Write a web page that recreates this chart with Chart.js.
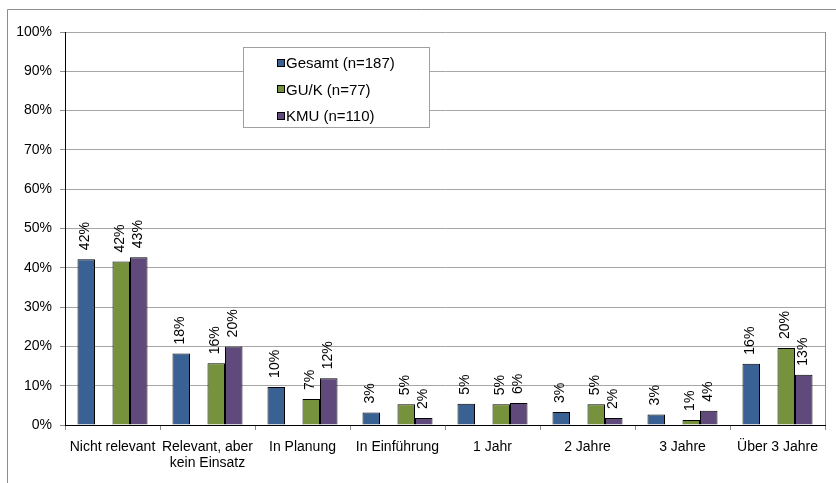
<!DOCTYPE html>
<html>
<head>
<meta charset="utf-8">
<script src="https://cdn.jsdelivr.net/npm/chart.js@4.4.0/dist/chart.umd.min.js"></script>
<style>
  html, body { margin: 0; padding: 0; background: #fff; }
  #wrap { width: 836px; height: 483px; position: relative; }
</style>
</head>
<body>
<div id="wrap"><canvas id="myChart"></canvas></div>
<script>
// Kategorien und Werte (in %)
var kategorien = [
  "Nicht relevant",
  ["Relevant, aber", "kein Einsatz"],
  "In Planung",
  "In Einführung",
  "1 Jahr",
  "2 Jahre",
  "3 Jahre",
  "Über 3 Jahre",
];
var gesamt = [42.2, 18.2, 9.7, 3.2, 5.4, 3.3, 2.7, 15.6];
var guk = [41.6, 15.7, 6.6, 5.3, 5.3, 5.3, 1.3, 19.6];
var kmu = [42.7, 20.0, 11.9, 1.8, 5.6, 1.8, 3.6, 12.8];
var leer = [null, null, null, null, null, null, null, null]; // leere Serie (Lücke zwischen Balken)
var yTicks = [0, 10, 20, 30, 40, 50, 60, 70, 80, 90, 100];

var schrift = '"Liberation Sans", Arial, sans-serif';

// Beschriftung über den Balken (senkrecht)
var wertePlugin = {
  id: "werte",
  afterDatasetsDraw: function (chart) {
    var ctx = chart.ctx;
    ctx.save();
    ctx.font = "14px " + schrift;
    ctx.fillStyle = "#000";
    ctx.textAlign = "left";
    ctx.textBaseline = "middle";
    chart.data.datasets.forEach(function (ds, i) {
      if (ds.leer) return;
      chart.getDatasetMeta(i).data.forEach(function (bar, j) {
        var v = ds.data[j];
        ctx.save();
        ctx.translate(bar.x - 1, bar.y - 9);
        ctx.rotate(-Math.PI / 2);
        ctx.fillText(Math.round(v) + "%", 0, 0);
        ctx.restore();
      });
    });
    ctx.restore();
  },
};

// Rahmen und Legende
var rahmenPlugin = {
  id: "rahmen",
  beforeDraw: function (chart) {
    var ctx = chart.ctx;
    ctx.save();
    ctx.strokeStyle = "#8c8c8c";
    ctx.lineWidth = 1;
    ctx.beginPath();
    ctx.moveTo(7.5, 483);
    ctx.lineTo(7.5, 9.5);
    ctx.lineTo(836, 9.5);
    ctx.stroke();
    ctx.restore();
  },
  afterDraw: function (chart) {
    var ctx = chart.ctx;
    var a = chart.chartArea;
    ctx.save();
    ctx.strokeStyle = "#8c8c8c";
    ctx.beginPath();
    ctx.moveTo(Math.round(a.right) + 0.5, a.top);
    ctx.lineTo(Math.round(a.right) + 0.5, a.bottom);
    ctx.stroke();

    // Legende
    ctx.fillStyle = "#fff";
    ctx.fillRect(243, 47, 186, 80);
    ctx.strokeStyle = "#a0a0a0";
    ctx.strokeRect(243.5, 47.5, 186, 80);
    ctx.font = "15px " + schrift;
    ctx.textBaseline = "middle";
    ctx.textAlign = "left";
    var eintraege = chart.data.datasets.filter(function (d) { return !d.leer; });
    eintraege.forEach(function (ds, i) {
      var y = 63 + i * 26.5;
      ctx.fillStyle = ds.backgroundColor;
      ctx.fillRect(278, Math.round(y - 3.5), 7, 7);
      ctx.strokeStyle = "#000";
      ctx.strokeRect(277.5, Math.round(y - 3.5) - 0.5, 7, 7);
      ctx.fillStyle = "#000";
      ctx.fillText(ds.label, 286, y + 1);
    });
    ctx.restore();
  },
};

var ctx = document.getElementById("myChart").getContext("2d");
var myChart = new Chart(ctx, {
  type: "bar",
  data: {
    labels: kategorien,
    datasets: [
      { label: "Gesamt (n=187)", data: gesamt, backgroundColor: "#3a6194" },
      { label: "", data: leer, backgroundColor: "#fff", leer: true },
      { label: "GU/K (n=77)", data: guk, backgroundColor: "#76923c" },
      { label: "KMU (n=110)", data: kmu, backgroundColor: "#604a7b" },
    ].map(function (d) {
      d.borderColor = "#000";
      d.borderWidth = 1;
      d.borderSkipped = "bottom";
      d.categoryPercentage = 0.737;
      d.barPercentage = 1;
      return d;
    }),
  },
  options: {
    responsive: true,
    maintainAspectRatio: false,
    animation: false,
    layout: { padding: { left: 0, top: 32, right: 11, bottom: 0 } },
    plugins: {
      legend: { display: false },
      tooltip: { enabled: false },
    },
    scales: {
      x: {
        grid: {
          display: true,
          drawOnChartArea: false,
          offset: true,
          tickLength: 5,
          color: "#8c8c8c",
        },
        border: { color: "#000", width: 1 },
        ticks: {
          color: "#000",
          padding: 9,
          maxRotation: 0,
          autoSkip: false,
          font: { family: schrift, size: 14, lineHeight: 1.15 },
        },
        afterFit: function (s) { s.height = 58; },
      },
      y: {
        min: 0,
        max: 100,
        afterBuildTicks: function (s) {
          s.ticks = yTicks.map(function (v) { return { value: v }; });
        },
        grid: {
          color: "#a6a6a6",
          tickLength: 5,
          tickColor: "#8c8c8c",
        },
        border: { color: "#000", width: 1 },
        ticks: {
          color: "#000",
          padding: 8,
          font: { family: schrift, size: 14 },
          callback: function (v) { return v + "%"; },
        },
        afterFit: function (s) { s.width = 65; },
      },
    },
  },
  plugins: [wertePlugin, rahmenPlugin],
});
</script>
</body>
</html>
